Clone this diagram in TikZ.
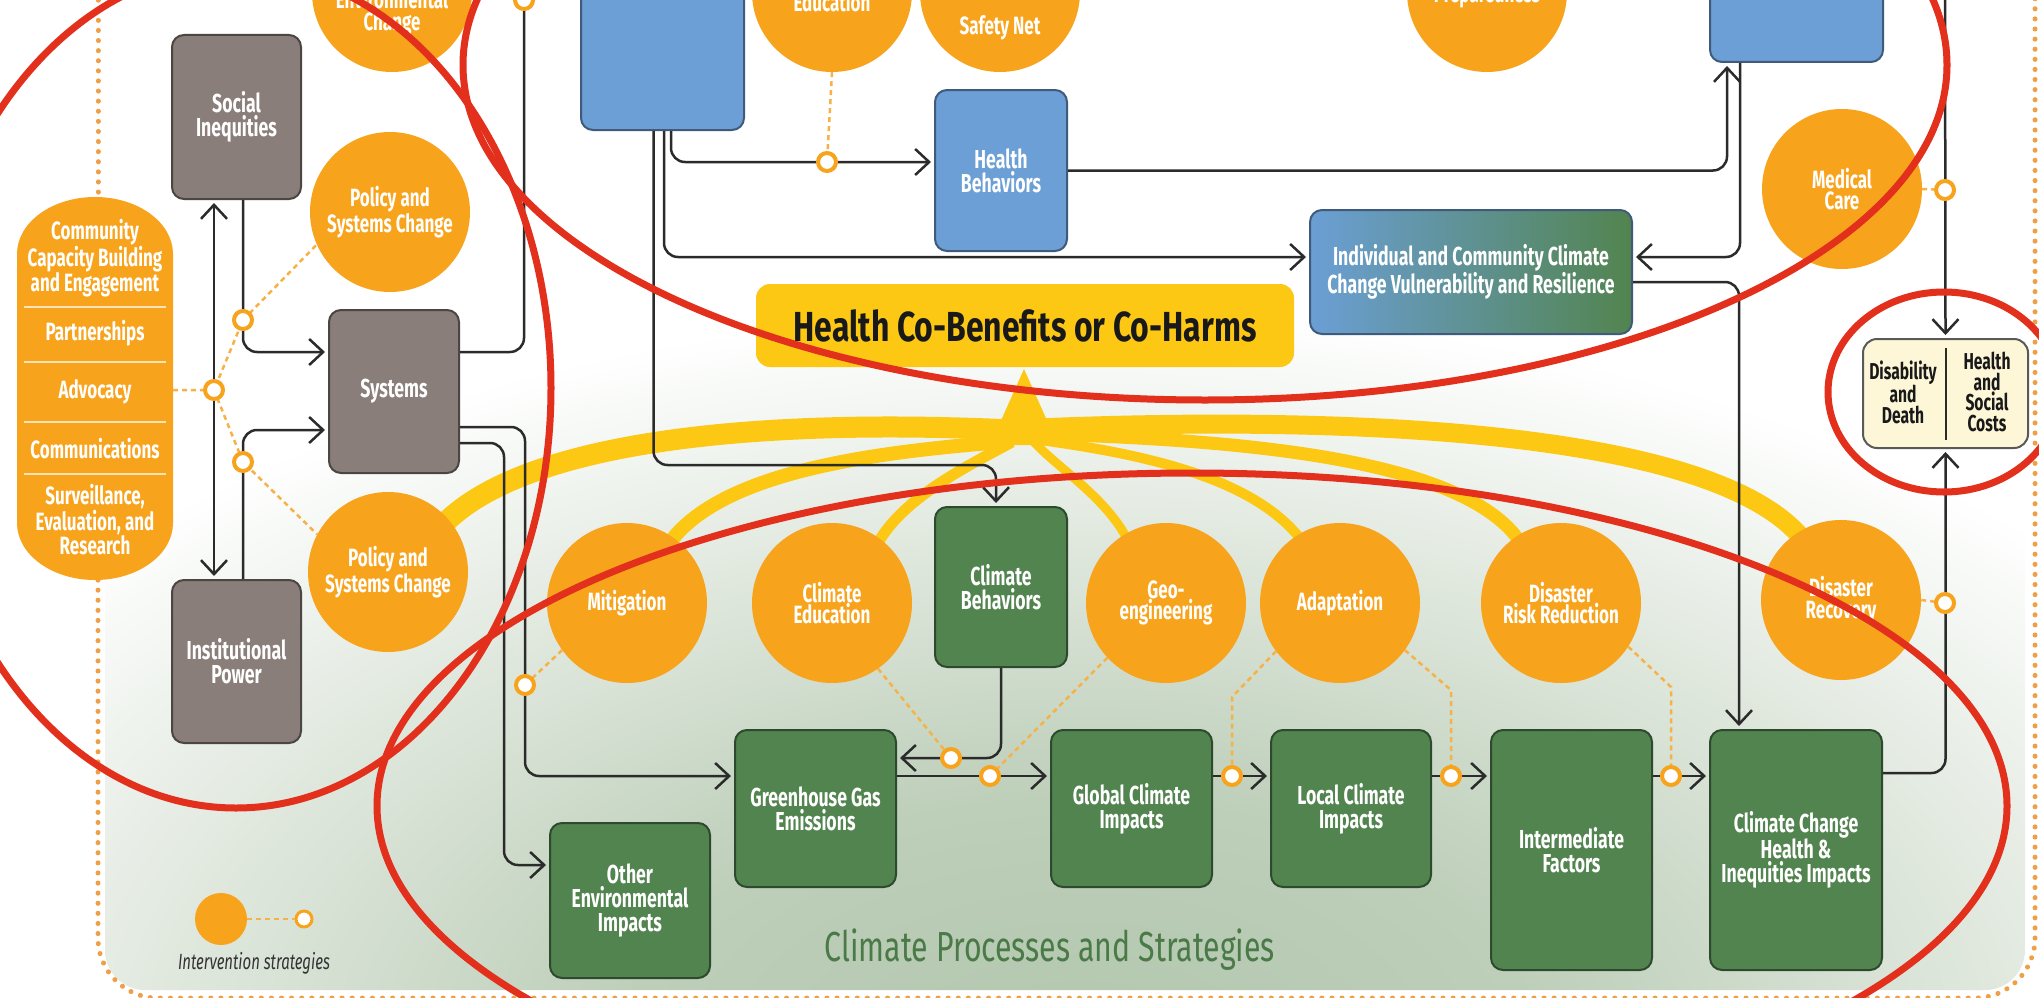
\documentclass[tikz,border=0pt]{standalone}
\usepackage{fontspec}
\newfontfamily\cf{Fira Sans}[FakeStretch=0.68]
\newfontfamily\cfw{Fira Sans}[FakeStretch=0.72]
\newfontfamily\cfh{Fira Sans}[FakeStretch=0.76]
\usetikzlibrary{arrows.meta,calc}
\definecolor{corange}{HTML}{F8A31C}
\definecolor{cdot}{HTML}{F6B247}
\definecolor{cborder}{HTML}{EFA047}
\definecolor{cgray}{HTML}{8A7E7A}
\definecolor{cgrayd}{HTML}{4B4543}
\definecolor{cblue}{HTML}{6B9FD5}
\definecolor{cblued}{HTML}{3F5A7A}
\definecolor{cgreen}{HTML}{52844F}
\definecolor{cgreend}{HTML}{2E4A2E}
\definecolor{cyellow}{HTML}{FCC813}
\definecolor{ccream}{HTML}{FDF7D8}
\definecolor{cline}{HTML}{2B2B2B}
\definecolor{cred}{HTML}{E2301D}
\definecolor{pgreen}{HTML}{B2C6AD}
\definecolor{ctitle}{HTML}{4A7A47}
\definecolor{cdiv}{HTML}{FDE3B5}
\pgfdeclareradialshading{panelshade}{\pgfpoint{0bp}{0bp}}{color(0bp)=(pgreen); color(8bp)=(pgreen!85!white); color(15bp)=(pgreen!45!white); color(23bp)=(white); color(50bp)=(white)}
\tikzset{
  bx/.style={rectangle, rounded corners=12pt, line width=2pt, inner sep=0pt, align=center, text=white, font=\cf\bfseries\fontsize{26}{24}\selectfont},
  graybox/.style={bx, fill=cgray, draw=cgrayd},
  bluebox/.style={bx, fill=cblue, draw=cblued},
  greenbox/.style={bx, fill=cgreen, draw=cgreend},
  strat/.style={circle, fill=corange, inner sep=0pt, minimum size=160pt, align=center, text=white, font=\cf\bfseries\fontsize{25}{21.5}\selectfont},
  stext/.style={align=center, text=white, inner sep=0pt, font=\cf\bfseries\fontsize{25}{21.5}\selectfont},
  pilltext/.style={align=center, text=white, inner sep=0pt, font=\cf\bfseries\fontsize{25}{20.5}\selectfont},
  ringnode/.style={circle, draw=corange, fill=white, line width=4pt, minimum size=18pt, inner sep=0pt},
  conn/.style={draw=cline, line width=2.5pt, rounded corners=14pt},
  arr/.style={conn, -{Straight Barb[length=14pt,width=26pt]}, shorten >=3pt},
  arrtwo/.style={conn, {Straight Barb[length=14pt,width=26pt]}-{Straight Barb[length=14pt,width=26pt]}, shorten >=3pt, shorten <=3pt},
  dotline/.style={draw=cdot, line width=2.5pt, dash pattern=on 5pt off 4pt},
  bordline/.style={draw=cborder, line width=5pt, line cap=round, dash pattern=on 0.1pt off 10pt},
  fan/.style={draw=cyellow, line cap=butt},
  redann/.style={draw=cred, line width=7pt},
}
\begin{document}
\begin{tikzpicture}[x=1pt,y=-1pt]
\useasboundingbox (0,0) rectangle (2039,998);
\fill[white] (0,0) rectangle (2039,998);
% background panel
\begin{scope}
\clip[rounded corners=40pt] (105,-60) rectangle (2025,990);
\shade[shading=panelshade] (1080,1060) ellipse [x radius=1450pt, y radius=820pt];
\end{scope}
% outer dotted border
\draw[bordline] (98,-10) -- (98,197);
\draw[bordline, rounded corners=60pt] (98,580) -- (98,998) -- (2035,998) -- (2035,-10);
% pill
\fill[corange] (17,254) arc[start angle=180, end angle=0, x radius=78pt, y radius=57pt] -- (173,523) arc[start angle=0, end angle=-180, x radius=78pt, y radius=57pt] -- cycle;
\foreach \yy in {307,362,422,474} \draw[cdiv, line width=2pt] (24,\yy) -- (166,\yy);
\node[pilltext] (p1) at (95,258) {Community\\Capacity Building\\and Engagement};
\node[pilltext] (p2) at (95,333) {Partnerships};
\node[pilltext] (p3) at (95,392) {Advocacy};
\node[pilltext] (p4) at (95,449) {Communications};
\node[pilltext] (p5) at (95,520) {Surveillance,\\Evaluation, and\\Research};
\coordinate (pillE) at (173,390);

% yellow fan
\fill[cyellow] (1024,369) -- (1058,445) -- (990,445) -- cycle;
\draw[fan, line width=21pt] (1012,430) .. controls (760,418) and (520,440) .. (440,528);
\draw[fan, line width=14pt] (1002,442) .. controls (880,452) and (720,470) .. (668,545);
\draw[fan, line width=11pt] (1012,442) .. controls (960,470) and (900,500) .. (875,548);
\draw[fan, line width=9pt] (1034,442) .. controls (1060,470) and (1110,500) .. (1130,545);
\draw[fan, line width=10pt] (1040,440) .. controls (1150,455) and (1260,480) .. (1305,545);
\draw[fan, line width=13pt] (1040,434) .. controls (1250,440) and (1470,460) .. (1522,545);
\draw[fan, line width=19pt] (1036,428) .. controls (1350,415) and (1720,430) .. (1805,542);

% boxes
\node[graybox, minimum width=129pt, minimum height=164pt] (si) at (236.5,117) {Social\\Inequities};
\node[graybox, minimum width=130pt, minimum height=163pt] (sys) at (394,391.5) {Systems};
\node[graybox, minimum width=129pt, minimum height=163pt] (ip) at (236.5,661.5) {Institutional\\Power};
\node[bluebox, minimum width=163pt, minimum height=170pt] (bigblue) at (662.5,45) {};
\node[bluebox, minimum width=173pt, minimum height=122pt] (trblue) at (1796.5,1) {};
\node[bluebox, minimum width=132pt, minimum height=161pt] (hb) at (1001,170.5) {Health\\Behaviors};
\node[bx, draw=cblued, left color=cblue, right color=cgreen, minimum width=322pt, minimum height=124pt] (indiv) at (1471,272) {Individual and Community Climate\\Change Vulnerability and Resilience};
\node[rectangle, rounded corners=14pt, fill=cyellow, minimum width=538pt, minimum height=83pt, text=black!90, font=\cfh\bfseries\fontsize{42}{44}\selectfont] (cohb) at (1025,325.5) {Health Co-Benefits or Co-Harms};
\node[rectangle, rounded corners=14pt, fill=ccream, draw=black!65, line width=2pt, minimum width=165pt, minimum height=109pt] (dis) at (1945.5,393.5) {};
\draw[cline, line width=2pt] (1946,348) -- (1946,440);
\node[align=center, inner sep=0pt, text=black!90, font=\cf\bfseries\fontsize{23}{20.5}\selectfont] (dd) at (1903,392) {Disability\\and\\Death};
\node[align=center, inner sep=0pt, text=black!90, font=\cf\bfseries\fontsize{23}{20.5}\selectfont] (hsc) at (1987,392) {Health\\and\\Social\\Costs};

\node[greenbox, minimum width=132pt, minimum height=160pt] (cb) at (1001,587) {Climate\\Behaviors};
\node[greenbox, minimum width=160pt, minimum height=155pt] (oei) at (630,900.5) {Other\\Environmental\\Impacts};
\node[greenbox, minimum width=161pt, minimum height=157pt] (ghg) at (815.5,808.5) {Greenhouse Gas\\Emissions};
\node[greenbox, minimum width=161pt, minimum height=157pt] (gci) at (1131.5,808.5) {Global Climate\\Impacts};
\node[greenbox, minimum width=160pt, minimum height=157pt] (lci) at (1351,808.5) {Local Climate\\Impacts};
\node[greenbox, minimum width=161pt, minimum height=240pt] (inf) at (1571.5,850) {Intermediate\\Factors};
\node[greenbox, minimum width=172pt, minimum height=240pt] (cchi) at (1796,850) {Climate Change\\Health \&\\Inequities Impacts};

% strategy circles
\node[strat] (envc) at (392,-8) {};
\node[stext] (envct) at (392,12) {Environmental\\Change};
\node[strat] (educ) at (832,-8) {};
\node[stext] (educt) at (832,2) {Education};
\node[strat] (safety) at (1000,-8) {};
\node[stext] (safetyt) at (1000,28) {Safety Net};
\node[strat] (prep) at (1487,-8) {};
\node[stext] (prept) at (1487,-4) {Preparedness};
\node[strat] (polU) at (390,212) {Policy and\\Systems Change};
\node[strat] (polL) at (388,572) {Policy and\\Systems Change};
\node[strat] (medcare) at (1842,189) {Medical\\Care};
\node[strat] (mitig) at (627,603) {Mitigation};
\node[strat] (climedu) at (832,603) {Climate\\Education};
\node[strat] (geo) at (1166,603) {Geo-\\engineering};
\node[strat] (adapt) at (1340,603) {Adaptation};
\node[strat] (drr) at (1561,603) {Disaster\\Risk Reduction};
\node[strat] (recov) at (1841,600) {Disaster\\Recovery};

% connectors
\coordinate (k1) at (996,465);
\coordinate (topL) at (524,-20);
\coordinate (topR) at (1945,-20);
\coordinate (k2) at (525,600);
\coordinate (k3) at (504,700);
\draw[arr] ([xshift=-9pt]bigblue.south) |- (k1) -- ([xshift=-5pt]cb.north);
\draw[arr] ([xshift=8.5pt]bigblue.south) |- ([yshift=8.5pt]hb.west);
\draw[arr] ([xshift=1.5pt]bigblue.south) |- ([yshift=15pt]indiv.west);
\draw[arr] (hb.east) -| ([xshift=-69.5pt]trblue.south);
\draw[arr] ([xshift=-56.5pt]trblue.south) |- ([yshift=15pt]indiv.east);
\draw[arr] ([yshift=-10pt]indiv.east) -| ([xshift=-57pt]cchi.north);
\draw[arr] (topR) -- (dis.north);
\draw[arr] ([yshift=77pt]cchi.east) -| (dis.south);
\draw[conn] ([yshift=39.5pt]sys.east) -| (topL);
\draw[arr] ([yshift=-35.5pt]sys.east) -| (k2) |- ([yshift=32.5pt]ghg.west);
\draw[arr] ([yshift=-51.5pt]sys.east) -| (k3) |- ([yshift=35.5pt]oei.west);
\draw[arr] ([xshift=6.5pt]si.south) |- ([yshift=39.5pt]sys.west);
\draw[arr] ([xshift=6.5pt]ip.north) |- ([yshift=-38.5pt]sys.west);
\draw[arrtwo] ([xshift=-22.5pt]si.south) -- ([xshift=-22.5pt]ip.north);
\draw[arr] (cb.south) |- ([yshift=50.5pt]ghg.east);
\draw[arr] ([yshift=32.5pt]ghg.east) -- ([yshift=32.5pt]gci.west);
\draw[arr] ([yshift=32.5pt]gci.east) -- ([yshift=32.5pt]lci.west);
\draw[arr] ([yshift=32.5pt]lci.east) -- ([yshift=74pt]inf.west);
\draw[arr] ([yshift=74pt]inf.east) -- ([yshift=74pt]cchi.west);

% dotted strategy links
\coordinate (rsiP) at (243,320);
\coordinate (radvP) at (214,390);
\coordinate (ripP) at (243,462);
\coordinate (a1) at (1232,697);
\coordinate (a2) at (1451,690);
\coordinate (a3) at (1671,687);
\draw[dotline] (pillE) -- (radvP) -- (rsiP) -- (polU.204);
\draw[dotline] (radvP) -- (ripP) -- (polL.152);
\draw[dotline] (educ.south) -- (827,162);
\draw[dotline] (medcare.east) -- (1945,190);
\draw[dotline] (mitig.216) -- (525,685);
\draw[dotline] (climedu.305) -- (951,758);
\draw[dotline] (geo.223) -- (990,776);
\draw[dotline] (adapt.217) -- (a1) -- (1232,776);
\draw[dotline] (adapt.324) -- (a2) -- (1451,776);
\draw[dotline] (drr.327) -- (a3) -- (1671,776);
\draw[dotline] (recov.east) -- (1945,603);

% rings
\node[ringnode] (rsi) at (rsiP) {};
\node[ringnode] (radv) at (radvP) {};
\node[ringnode] (rip) at (ripP) {};
\node[ringnode] (rhb) at (827,162) {};
\node[ringnode] (rmed) at (1945,190) {};
\node[ringnode] (rmit) at (525,685) {};
\node[ringnode] (rcb) at (951,758) {};
\node[ringnode] (rghg) at (990,776) {};
\node[ringnode] (rgl) at (1232,776) {};
\node[ringnode] (rli) at (1451,776) {};
\node[ringnode] (ric) at (1671,776) {};
\node[ringnode] (rrec) at (1945,603) {};
\node[ringnode] (rtop) at (524,0) {};

% legend
\node[circle, fill=corange, minimum size=52pt, inner sep=0pt] (legc) at (221,919) {};
\node[circle, draw=corange, fill=white, line width=3pt, minimum size=16pt, inner sep=0pt] (legr) at (304,919) {};
\draw[dotline, line width=2pt] (legc.east) -- (legr.west);
\node[text=black!80, inner sep=0pt, font=\cf\itshape\fontsize{22}{24}\selectfont] (legt) at (254,963) {Intervention strategies};

% title
\node[text=ctitle, inner sep=0pt, font=\cfw\fontsize{42}{44}\selectfont] (title) at (1050,950) {Climate Processes and Strategies};

% red annotations
\draw[redann] (236,388) ellipse [x radius=315pt, y radius=420pt];
\draw[redann] (1205,65) ellipse [x radius=742pt, y radius=335pt];
\draw[redann] (1192,806) ellipse [x radius=815pt, y radius=333pt];
\draw[redann] (1944,392) ellipse [x radius=116pt, y radius=100pt];
\end{tikzpicture}
\end{document}
